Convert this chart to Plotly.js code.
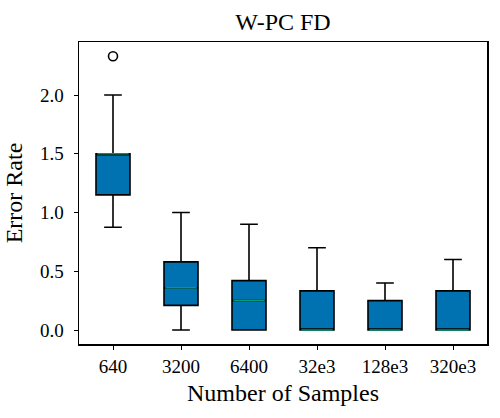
<!DOCTYPE html>
<html>
<head>
<meta charset="utf-8">
<script src="https://cdn.plot.ly/plotly-3.0.1.min.js"></script>
<style>html,body{margin:0;padding:0;background:#fff;}#chart{width:500px;height:418px;}</style>
</head>
<body>
<div id="chart"></div>
<script>
const categories = ["640", "3200", "6400", "32e3", "128e3", "320e3"];
const lowerWhisker = [0.875, 0.0, 0.0, 0.0, 0.0, 0.0];
const q1Values = [1.15, 0.21, 0.0, 0.0, 0.0, 0.0];
const medianValues = [1.5, 0.36, 0.25, 0.0, 0.0, 0.0];
const q3Values = [1.5, 0.58, 0.42, 0.333, 0.25, 0.333];
const upperWhisker = [2.0, 1.0, 0.9, 0.7, 0.4, 0.6];
const outlierCategory = [0];
const outlierValues = [2.33];
const yTicks = [0.0, 0.5, 1.0, 1.5, 2.0];
const yTickText = ["0.0", "0.5", "1.0", "1.5", "2.0"];

const pos = categories.map((c, i) => i);
const halfW = 0.25;

const traces = [{
  type: "box",
  x: pos,
  q1: q1Values,
  median: medianValues,
  q3: q3Values,
  lowerfence: lowerWhisker,
  upperfence: upperWhisker,
  width: 0.5,
  whiskerwidth: 0.52,
  fillcolor: "#0072B2",
  line: {color: "#000000", width: 1.6},
  boxpoints: false,
  hoverinfo: "skip",
  showlegend: false
}];

medianValues.forEach((m, i) => {
  traces.push({
    type: "scatter", mode: "lines",
    x: [pos[i] - halfW + 0.02, pos[i] + halfW - 0.02],
    y: [m, m],
    line: {color: "#009E73", width: 1.4},
    showlegend: false, hoverinfo: "skip"
  });
});

traces.push({
  type: "scatter", mode: "markers",
  x: outlierCategory.map(i => pos[i]),
  y: outlierValues,
  marker: {symbol: "circle-open", size: 9, color: "#000000", line: {width: 1.6, color: "#000"}},
  showlegend: false, hoverinfo: "skip"
});

const font = "Liberation Serif, DejaVu Serif, serif";
const layout = {
  width: 500, height: 418,
  margin: {l: 79, r: 13, t: 42, b: 74},
  paper_bgcolor: "#fff", plot_bgcolor: "#fff",
  font: {family: font, color: "#000", size: 19},
  title: {text: "W-PC FD", x: 0.566, xanchor: "center", y: 0.948, yanchor: "middle", font: {family: font, size: 24, color: "#000"}},
  xaxis: {
    range: [-0.5, 5.5],
    tickmode: "array", tickvals: pos, ticktext: categories,
    ticks: "outside", ticklen: 4, tickwidth: 1, tickcolor: "#000",
    showline: true, linecolor: "#000", linewidth: 1.5, mirror: true,
    showgrid: false, zeroline: false,
    tickfont: {family: font, size: 19},
    ticklabelstandoff: 1,
    title: {text: "Number of Samples", font: {family: font, size: 24}, standoff: 8}
  },
  yaxis: {
    range: [-0.119, 2.451],
    tickmode: "array", tickvals: yTicks, ticktext: yTickText,
    ticks: "outside", ticklen: 4, tickwidth: 1, tickcolor: "#000",
    showline: true, linecolor: "#000", linewidth: 1.5, mirror: true,
    showgrid: false, zeroline: false,
    tickfont: {family: font, size: 19},
    ticklabelstandoff: 6,
    title: {text: "Error Rate", font: {family: font, size: 24}, standoff: 10}
  }
};

Plotly.newPlot("chart", traces, layout, {displayModeBar: false, staticPlot: true});
</script>
</body>
</html>
